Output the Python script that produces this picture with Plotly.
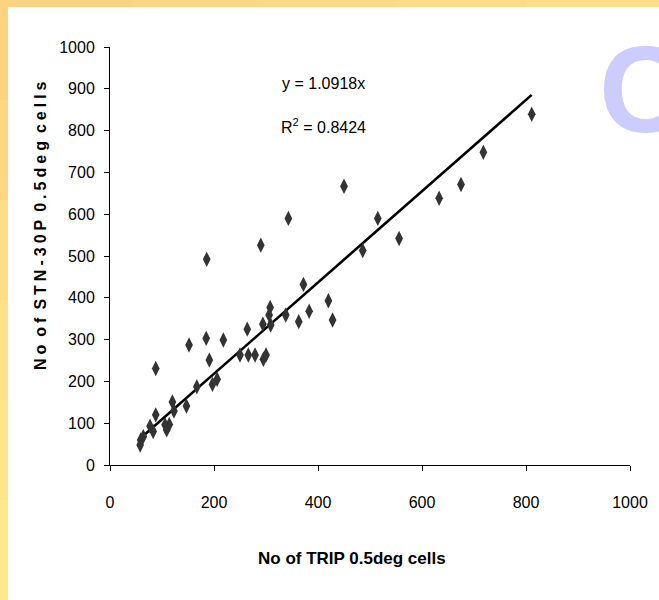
import plotly.graph_objects as go

# Data
trip_cells = [58, 59, 64, 77, 83, 88, 88, 106, 109, 114, 120, 123, 147, 152, 167, 185, 186,
              191, 197, 206, 218, 250, 264, 266, 279, 290, 295, 300, 294, 308, 306, 309, 338,
              343, 363, 372, 383, 420, 428, 450, 486, 515, 556, 633, 675, 718, 811]
stn_cells = [48, 60, 68, 93, 80, 120, 231, 96, 84, 97, 151, 129, 141, 287, 187, 303, 492,
             251, 193, 205, 299, 263, 325, 263, 263, 526, 253, 263, 337, 377, 359, 335, 359,
             590, 343, 432, 368, 393, 347, 667, 513, 590, 542, 638, 671, 748, 839]
slope = 1.0918
r2 = 0.8424
x_ticks = [0, 200, 400, 600, 800, 1000]
y_ticks = [0, 100, 200, 300, 400, 500, 600, 700, 800, 900, 1000]

W, H = 659, 600
L, R, T, B = 110, 29, 47, 135
pw, ph = W - L - R, H - T - B

def px2paper_x(px):
    return (px - L) / pw

def px2paper_y(py):
    return (H - B - py) / ph

fig = go.Figure()

x_fit = [min(trip_cells), max(trip_cells)]
y_fit = [slope * v for v in x_fit]
fig.add_trace(go.Scatter(x=x_fit, y=y_fit, mode="lines",
                         line=dict(color="black", width=2.6), showlegend=False,
                         hoverinfo="skip"))
fig.add_trace(go.Scatter(x=trip_cells, y=stn_cells, mode="markers",
                         marker=dict(symbol="diamond-tall", size=11, color="#333333",
                                     line=dict(width=0)),
                         showlegend=False))

sans = "Liberation Sans, Arial, sans-serif"

# background frame: yellow border, white panel
shapes = []
cols_top = ["#FFD27F", "#FFD682", "#FFDA84", "#FFDD86", "#FFE088"]
n = len(cols_top)
for i, c in enumerate(cols_top):
    shapes.append(dict(type="rect", xref="paper", yref="paper", layer="below",
                       x0=px2paper_x(W * i / n), x1=px2paper_x(W * (i + 1) / n + 1),
                       y0=px2paper_y(7), y1=px2paper_y(0), fillcolor=c, line=dict(width=0)))
cols_left = ["#FFD27F", "#FFD784", "#FFDC88", "#FFE08A", "#FFE48B", "#FFE88C"]
n = len(cols_left)
for i, c in enumerate(cols_left):
    shapes.append(dict(type="rect", xref="paper", yref="paper", layer="below",
                       x0=px2paper_x(0), x1=px2paper_x(8),
                       y0=px2paper_y(H * (i + 1) / n + 1), y1=px2paper_y(H * i / n),
                       fillcolor=c, line=dict(width=0)))
shapes.append(dict(type="rect", xref="paper", yref="paper", layer="below",
                   x0=px2paper_x(8), x1=px2paper_x(W + 2),
                   y0=px2paper_y(H + 2), y1=px2paper_y(7),
                   fillcolor="white", line=dict(width=0)))

words = "No of STN-30P 0.5deg cells".split(" ")
ytitle = "\u2002".join("\u2005".join(list(w)) for w in words)

annotations = [
    dict(x=410, y=913, xref="x", yref="y", text=f"y = {slope}x", showarrow=False,
         xanchor="center", yanchor="middle",
         font=dict(family=sans, size=16, color="black")),
    dict(x=410, y=810, xref="x", yref="y", text=f"R<sup>2</sup> = {r2}", showarrow=False,
         xanchor="center", yanchor="middle",
         font=dict(family=sans, size=16, color="black")),
    dict(x=px2paper_x(597), y=px2paper_y(20), xref="paper", yref="paper", text="<b>C</b>",
         showarrow=False, xanchor="left", yanchor="top",
         font=dict(family=sans, size=122, color="#CCCCFF")),
    dict(x=px2paper_x(41), y=px2paper_y(226), xref="paper", yref="paper", text=f"<b>{ytitle}</b>",
         showarrow=False, textangle=-90, xanchor="center", yanchor="middle",
         font=dict(family=sans, size=16, color="black")),
    dict(x=px2paper_x(352), y=px2paper_y(558), xref="paper", yref="paper",
         text="<b>No of TRIP 0.5deg cells</b>", showarrow=False,
         xanchor="center", yanchor="middle",
         font=dict(family=sans, size=17, color="black")),
]

fig.update_layout(
    width=W, height=H,
    margin=dict(l=L, r=R, t=T, b=B, pad=0),
    paper_bgcolor="#FFE088",
    plot_bgcolor="white",
    shapes=shapes,
    annotations=annotations,
    xaxis=dict(range=[0, 1000], tickvals=x_ticks, ticktext=[str(v) for v in x_ticks],
               showgrid=False, zeroline=False, showline=True, linecolor="black", linewidth=1,
               ticks="outside", ticklen=5, tickcolor="black", tickwidth=1,
               ticklabelstandoff=18,
               tickfont=dict(family=sans, size=16, color="black")),
    yaxis=dict(range=[0, 1000], tickvals=y_ticks, ticktext=[str(v) for v in y_ticks],
               showgrid=False, zeroline=False, showline=True, linecolor="black", linewidth=1,
               ticks="outside", ticklen=5, tickcolor="black", tickwidth=1,
               ticklabelstandoff=6,
               tickfont=dict(family=sans, size=16, color="black")),
)

fig.write_html("out.html", config={"displayModeBar": False},
               post_script="document.body.style.margin='0px';document.body.style.overflow='hidden';")
